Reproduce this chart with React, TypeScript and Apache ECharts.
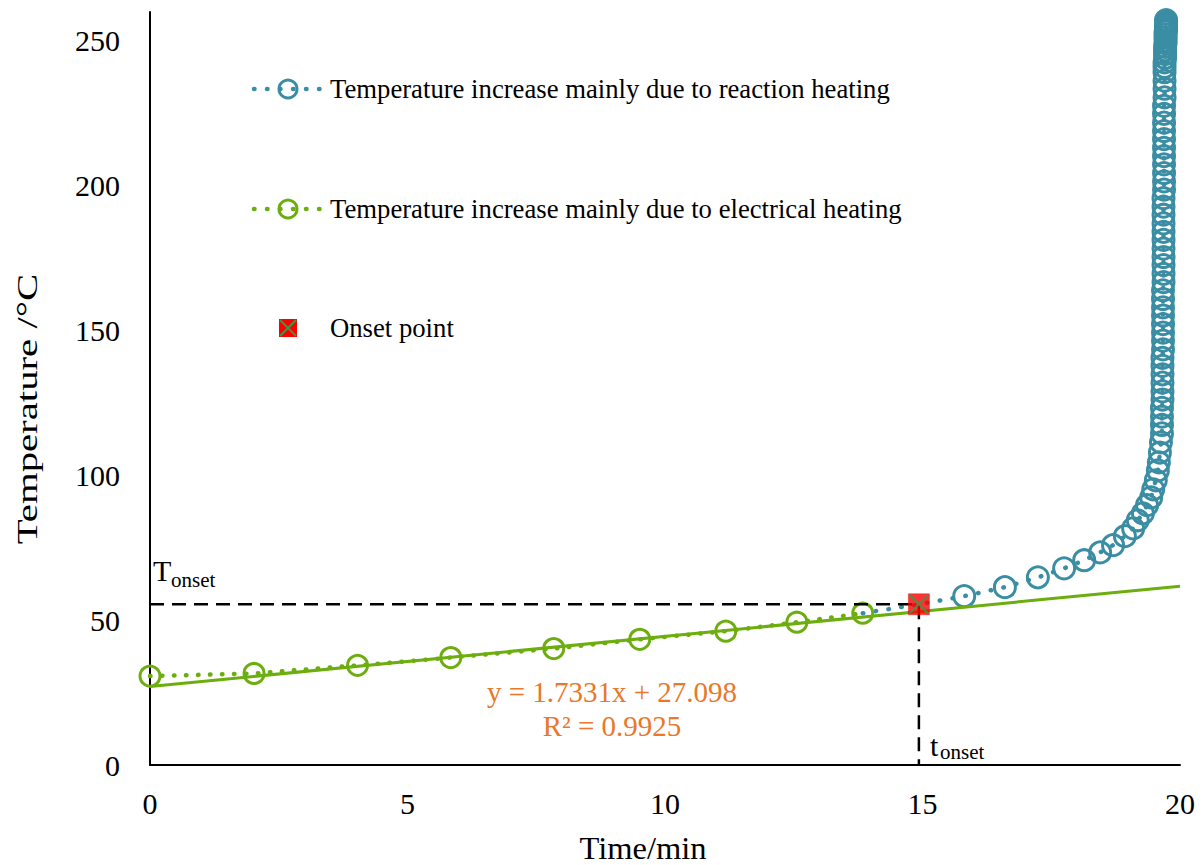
import React, { useEffect, useRef } from "react";
import * as echarts from "echarts";

const FONT = '"Liberation Serif", "Times New Roman", serif';
const BLUE = "#3A8DA3";
const GREEN = "#6CAE0E";
const ORANGE = "#E9782A";

// Electrical heating phase (time in min, temperature in °C)
const greenTime = [0, 2.02, 4.03, 5.84, 7.84, 9.51, 11.18, 12.56, 13.84];
const greenTemp = [30.7, 31.6, 34.4, 37.1, 40.2, 43.4, 46.2, 49.3, 52.4];

// Reaction heating phase
const blueTime = [
  13.84, 14.93, 15.81, 16.6, 17.24, 17.75, 18.14, 18.45, 18.7, 18.93, 19.09,
  19.18, 19.28, 19.36, 19.44, 19.48, 19.53, 19.57, 19.59, 19.61, 19.63, 19.65,
  19.65, 19.65, 19.65, 19.66, 19.66, 19.66, 19.66, 19.66, 19.66, 19.67,
  19.67, 19.67, 19.67, 19.67, 19.67, 19.67, 19.67, 19.68, 19.68, 19.68,
  19.68, 19.68, 19.68, 19.68, 19.68, 19.68, 19.68, 19.68, 19.69, 19.69,
  19.69, 19.69, 19.69, 19.69, 19.69, 19.69, 19.69, 19.69, 19.69, 19.7,
  19.7, 19.7, 19.7,
  19.7, 19.7, 19.71, 19.71, 19.71, 19.71, 19.72, 19.72, 19.72, 19.72, 19.72,
  19.73, 19.73, 19.73, 19.73, 19.73, 19.73,
];
const blueTemp = [
  52.4, 55.5, 58.3, 61.4, 64.8, 67.9, 70.7, 73.4, 75.9, 79.0, 81.7, 84.5,
  86.9, 89.7, 92.4, 95.2, 98.3, 101.7, 104.5, 107.9, 111.4, 114.5,
  117.4, 120.3, 123.3, 126.2, 129.0, 132.0, 134.9, 137.8, 140.6, 143.5,
  146.5, 149.3, 152.2, 155.2, 158.0, 160.9, 163.9, 166.7, 169.6, 172.6,
  175.4, 178.3, 181.3, 184.1, 187.0, 190.0, 192.8, 195.7, 198.7, 201.5,
  204.4, 207.4, 210.2, 213.1, 216.1, 218.9, 221.8, 224.8, 227.6, 230.5,
  233.5, 236.3, 239.2,
  241.0, 242.6, 244.1, 245.5, 246.8, 248.0, 249.2, 250.3, 251.3, 252.3,
  253.2, 254.0, 254.8, 255.5, 256.1, 256.7, 257.2,
];

// Linear trend line y = 1.7331x + 27.098 (end points)
const trendTime = [0, 20];
const trendTemp = [27.1, 61.76];

// Onset point
const onsetTime = 14.93;
const onsetTemp = 55.5;

const xTicks = { min: 0, max: 20, interval: 5 };
const yTicks = { min: 0, max: 260, interval: 50 };

const legendNames = [
  "Temperature increase mainly due to reaction heating",
  "Temperature increase mainly due to electrical heating",
  "Onset point",
];
const equationText = ["y = 1.7331x + 27.098", "R² = 0.9925"];
const axisTitles = { x: "Time/min", y: "Temperature /°C" };

function legendLine(y: number, color: string) {
  return [
    {
      type: "line",
      shape: { x1: 254, y1: y, x2: 321, y2: y },
      style: { stroke: color, lineWidth: 4.5, lineDash: [0.5, 12.5], lineCap: "round" },
    },
    {
      type: "circle",
      shape: { cx: 288, cy: y, r: 9 },
      style: { fill: "none", stroke: color, lineWidth: 3 },
    },
  ];
}

function txt(x: number, y: number, text: string, size: number, fill = "#000", align = "left") {
  return {
    type: "text",
    x,
    y,
    style: { text, fontSize: size, fontFamily: FONT, fill, align, verticalAlign: "middle" },
  };
}

const option: any = {
  animation: false,
  backgroundColor: "#fff",
  grid: { left: 150, right: 22, top: 12, bottom: 100 },
  xAxis: {
    type: "value",
    ...xTicks,
    axisLine: { show: true, lineStyle: { color: "#000", width: 2 } },
    axisTick: { show: false },
    splitLine: { show: false },
    axisLabel: { fontSize: 30, fontFamily: FONT, color: "#000", margin: 23 },
  },
  yAxis: {
    type: "value",
    ...yTicks,
    axisLine: { show: true, lineStyle: { color: "#000", width: 2 } },
    axisTick: { show: false },
    splitLine: { show: false },
    axisLabel: {
      fontSize: 30,
      fontFamily: FONT,
      color: "#000",
      margin: 30,
      formatter: (v: number) => (v % 50 === 0 ? String(v) : ""),
    },
  },
  series: [
    {
      type: "line",
      name: legendNames[1],
      data: greenTime.map((t, i) => [t, greenTemp[i]]),
      symbol: "circle",
      symbolSize: 20,
      showAllSymbol: true,
      itemStyle: { color: "rgba(0,0,0,0)", borderColor: GREEN, borderWidth: 3 },
      lineStyle: { color: GREEN, width: 4.5, type: [0.5, 11.5], cap: "round" },
      emphasis: { disabled: true },
      silent: true,
      z: 2,
    },
    {
      type: "line",
      name: legendNames[0],
      data: blueTime.map((t, i) =>
        i < 2 ? { value: [t, blueTemp[i]], symbol: "none" } : [t, blueTemp[i]]
      ),
      symbol: "circle",
      symbolSize: 21,
      showAllSymbol: true,
      itemStyle: { color: "rgba(0,0,0,0)", borderColor: BLUE, borderWidth: 3 },
      lineStyle: { color: BLUE, width: 4.5, type: [0.5, 12.5], cap: "round" },
      emphasis: { disabled: true },
      silent: true,
      z: 2,
    },
    {
      type: "line",
      data: trendTime.map((t, i) => [t, trendTemp[i]]),
      symbol: "none",
      lineStyle: { color: GREEN, width: 3 },
      silent: true,
      z: 3,
    },
    {
      type: "line",
      data: [
        [0, onsetTemp],
        [onsetTime, onsetTemp],
        [onsetTime, 0],
      ],
      symbol: "none",
      lineStyle: { color: "#000", width: 2.5, type: [14, 8] },
      silent: true,
      z: 4,
    },
    {
      type: "scatter",
      name: legendNames[2],
      data: [[onsetTime, onsetTemp]],
      symbol: "rect",
      symbolSize: 21,
      itemStyle: { color: "#FF0000", borderColor: "#E00000", borderWidth: 0.5 },
      silent: true,
      z: 5,
    },
    {
      type: "scatter",
      data: [[onsetTime, onsetTemp]],
      symbol: "path://M0,0L10,10M10,0L0,10",
      symbolSize: 19,
      itemStyle: { color: "rgba(0,0,0,0)", borderColor: "#2E9E4A", borderWidth: 2 },
      silent: true,
      z: 6,
    },
  ],
  graphic: [
    ...legendLine(89, BLUE),
    txt(330, 89, legendNames[0], 26.7),
    ...legendLine(209, GREEN),
    txt(330, 209, legendNames[1], 26.7),
    {
      type: "rect",
      shape: { x: 279, y: 319, width: 18, height: 18 },
      style: { fill: "#FF0000" },
    },
    {
      type: "line",
      shape: { x1: 280, y1: 320, x2: 296, y2: 336 },
      style: { stroke: "#2E9E4A", lineWidth: 1.8 },
    },
    {
      type: "line",
      shape: { x1: 296, y1: 320, x2: 280, y2: 336 },
      style: { stroke: "#2E9E4A", lineWidth: 1.8 },
    },
    txt(330, 328, legendNames[2], 26.7),
    {
      type: "text",
      x: 27,
      y: 409,
      rotation: Math.PI / 2,
      scaleX: 1.36,
      style: {
        text: axisTitles.y,
        fontSize: 30,
        fontFamily: FONT,
        fill: "#000",
        align: "center",
        verticalAlign: "middle",
      },
    },
    txt(643, 848, axisTitles.x, 32.5, "#000", "center"),
    txt(153, 570, "T", 30),
    txt(171, 580, "onset", 21),
    txt(930, 745, "t", 30),
    txt(940, 752, "onset", 21),
    txt(612, 692, equationText[0], 29, ORANGE, "center"),
    txt(612, 726, equationText[1], 29, ORANGE, "center"),
  ],
};

export default function App() {
  const ref = useRef<HTMLDivElement>(null);
  useEffect(() => {
    const chart = echarts.init(ref.current as HTMLDivElement, null, { renderer: "svg" });
    chart.setOption(option);
    return () => chart.dispose();
  }, []);
  return (
    <div
      ref={ref}
      style={{ position: "fixed", left: 0, top: 0, width: 1202, height: 865, background: "#fff" }}
    />
  );
}
